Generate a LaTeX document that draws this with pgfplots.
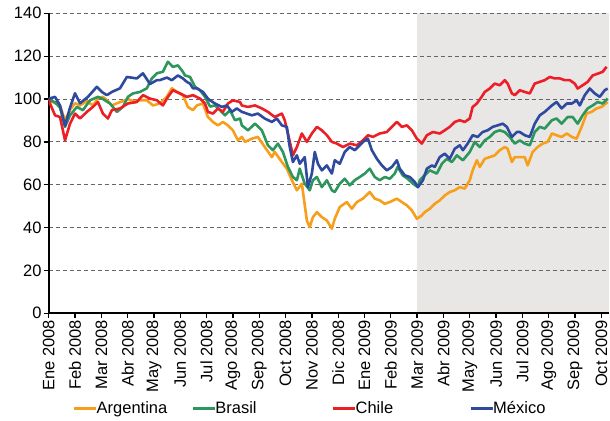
\documentclass[border=0pt]{standalone}
\usepackage{fontspec}
\setmainfont{Liberation Sans}
\usepackage{pgfplots}
\pgfplotsset{compat=1.18}
\definecolor{argc}{RGB}{247,158,27}
\definecolor{brac}{RGB}{44,150,92}
\definecolor{chic}{RGB}{236,30,38}
\definecolor{mexc}{RGB}{46,74,158}
\definecolor{shadec}{RGB}{232,231,230}
\newcommand{\chartfont}{\fontsize{16.5bp}{19bp}\selectfont}
\begin{document}
\begin{tikzpicture}
\begin{axis}[
  set layers,
  scale only axis, width=560bp, height=300bp,
  xmin=0, xmax=21.28, ymin=0, ymax=140,
  axis x line*=bottom, axis y line*=left,
  axis line style={line width=1.6bp, -},
  tick align=outside, major tick length=5bp,
  tick style={line width=1.3bp, black},
  ytick={0,20,...,140},
  xtick={0,...,21},
  xticklabels={Ene 2008,Feb 2008,Mar 2008,Abr 2008,May 2008,Jun 2008,Jul 2008,Ago 2008,Sep 2008,Oct 2008,Nov 2008,Dic 2008,Ene 2009,Feb 2009,Mar 2009,Abr 2009,May 2009,Jun 2009,Jul 2009,Ago 2009,Sep 2009,Oct 2009},
  x tick label style={rotate=90, anchor=east, inner sep=1.5bp},
  y tick label style={inner sep=2bp},
  every tick label/.append style={font=\chartfont},
  /pgf/number format/assume math mode=true,
  ymajorgrids,
  major grid style={gray!80!black, dash pattern=on 4bp off 3bp, line width=1bp},
  legend style={draw=none, fill=none, at={(0.465,-0.317)}, anchor=center, font=\chartfont,
    legend columns=4, nodes={inner xsep=0bp, inner ysep=1bp},
    /tikz/column 1/.style={column sep=-1bp},
    /tikz/column 3/.style={column sep=-1bp},
    /tikz/column 5/.style={column sep=-1bp},
    /tikz/column 7/.style={column sep=-1bp},
    /tikz/column 2/.style={column sep=24bp},
    /tikz/column 4/.style={column sep=75bp},
    /tikz/column 6/.style={column sep=76bp}},
  legend image code/.code={\draw[#1, line width=3bp] (0bp,0bp) -- (22bp,0bp);},
  every axis plot/.append style={line width=2.6bp, line join=round, mark=none},
]
\begin{pgfonlayer}{axis background}
\fill[shadec] (axis cs:14,0) rectangle (axis cs:21.28,140);
\end{pgfonlayer}

% Argentina
\addplot[argc] coordinates {
(0,100)(0.05,99.4)(0.24,98)(0.43,97)(0.62,90)(0.81,95)(1.00,98)(1.19,97)(1.45,99)(1.68,97)
(1.87,100.2)(2.06,101)(2.25,99)(2.40,97)(2.59,98)(2.82,99)(3.01,100)(3.20,99)(3.47,99.4)(3.73,99.4)
(3.96,97)(4.22,97.9)(4.49,101)(4.68,105)(4.87,103.3)(5.10,101.8)(5.29,96.3)(5.48,94.8)(5.63,97)(5.86,97.9)
(6.05,91.6)(6.24,89.3)(6.43,87.7)(6.62,89.3)(6.81,87.7)(7.00,85.4)(7.19,80.7)(7.34,82.3)(7.46,80)(7.72,81.5)
(7.95,82.3)(8.21,77.6)(8.48,72.9)(8.59,75.3)(8.86,70.6)(9.05,67.5)(9.24,62.1)(9.43,57.4)(9.62,60.5)(9.81,43.3)
(9.92,40.2)(10.04,44.9)(10.19,47.2)(10.38,44.9)(10.57,43.3)(10.76,39.5)(10.87,44.1)(11.06,49.6)(11.33,51.9)(11.52,48.8)
(11.71,51.9)(11.94,53.5)(12.20,56.6)(12.39,53.5)(12.58,52.7)(12.77,51.1)(12.96,51.9)(13.23,53.5)(13.42,51.9)(13.61,50.4)
(13.80,48)(13.99,44.1)(14.18,45.7)(14.29,47.2)(14.48,48.8)(14.67,51.1)(14.86,52.7)(15.05,55)(15.24,56.6)(15.43,57.4)
(15.62,58.9)(15.81,58.2)(16.00,62.1)(16.11,66.7)(16.27,71.4)(16.38,68.3)(16.57,72.1)(16.76,72.9)(16.95,73.7)(17.14,76.1)
(17.33,77.6)(17.44,76.8)(17.60,70.6)(17.71,72.9)(17.90,72.9)(18.09,72.9)(18.20,69)(18.39,75.3)(18.58,77.6)(18.77,79.2)
(18.96,80)(19.12,83.9)(19.30,83.1)(19.49,82.3)(19.69,83.9)(19.88,82.3)(20.06,81.5)(20.25,87)(20.44,93.2)(20.63,94)
(20.82,95.6)(21.01,96.3)(21.24,98.6)
};
\addlegendentry{Argentina}

% Brasil
\addplot[brac] coordinates {
(0,100)(0.05,99.4)(0.24,98.5)(0.43,96)(0.62,87)(0.81,92.4)(1.07,96.3)(1.30,94.8)(1.57,99.4)(1.87,101)
(2.06,100)(2.33,97.9)(2.59,94)(2.82,96.3)(3.01,101)(3.20,102.6)(3.47,103.3)(3.73,105)(3.92,109.6)(4.11,112)
(4.34,112.7)(4.53,117.4)(4.72,115)(4.91,115.7)(5.10,112.7)(5.18,111)(5.37,110.3)(5.56,105.7)(5.75,104.1)(5.94,101)
(6.13,96.5)(6.32,97)(6.51,94.8)(6.70,92.4)(6.89,94.8)(7.08,90.1)(7.27,90.9)(7.34,87.7)(7.57,85.4)(7.84,88.5)
(8.10,85.4)(8.33,78.4)(8.52,76.1)(8.71,79.2)(8.90,75.3)(9.09,68.3)(9.28,63.6)(9.43,62.1)(9.54,67.5)(9.73,60.5)
(9.92,57.4)(10.04,62.1)(10.19,63.6)(10.38,58.9)(10.57,62.1)(10.76,57.4)(10.87,56.6)(11.06,60.5)(11.25,62.8)(11.44,59.7)
(11.63,62.1)(11.82,63.6)(12.01,65.2)(12.20,67.5)(12.39,63.6)(12.58,62.1)(12.77,63.6)(12.96,62.8)(13.15,65.2)(13.26,68.3)
(13.45,64.4)(13.64,62.8)(13.84,60.5)(14.03,58.9)(14.10,62.1)(14.29,64.4)(14.48,66.7)(14.75,65.2)(14.94,69.8)(15.13,72.1)
(15.32,70.6)(15.51,73.7)(15.74,71.4)(16.00,75.3)(16.19,80)(16.38,77.6)(16.57,80.7)(16.76,82.3)(16.95,84.6)(17.14,85.4)
(17.33,84.6)(17.52,82.3)(17.71,79.2)(17.90,80.7)(18.09,79.2)(18.28,78.4)(18.47,84.6)(18.66,87)(18.85,86.2)(19.12,90.1)
(19.30,90.9)(19.49,88.5)(19.72,91.6)(19.91,91.6)(20.10,88.5)(20.29,92.4)(20.48,95.6)(20.67,97)(20.86,98.6)(21.05,97.9)
(21.24,100.2)
};
\addlegendentry{Brasil}

% Chile
\addplot[chic] coordinates {
(0,100)(0.05,97.9)(0.24,92.4)(0.43,91.6)(0.62,80.7)(0.81,88.5)(1.00,93.2)(1.19,90.9)(1.45,94)(1.68,96.3)
(1.87,98.6)(2.06,93.2)(2.25,90.9)(2.40,94.8)(2.71,95.6)(3.01,97.9)(3.35,98.6)(3.58,101.8)(3.85,100.2)(4.11,99.4)
(4.34,97)(4.53,101)(4.72,104.1)(4.99,102.6)(5.25,101)(5.48,101.8)(5.75,100.2)(5.94,97.9)(6.05,94)(6.24,93.2)
(6.43,95.6)(6.62,94)(6.81,97.9)(7.00,99.4)(7.27,98.6)(7.34,97)(7.57,96.3)(7.84,97)(8.10,95.6)(8.33,94)
(8.59,91.6)(8.86,93.2)(8.97,90.1)(9.09,83.9)(9.28,73.7)(9.43,77.6)(9.62,83.9)(9.81,80)(10.00,83.9)(10.19,87)
(10.38,85.4)(10.57,83.1)(10.76,80)(10.95,79.2)(11.18,77.6)(11.44,79.2)(11.71,78.4)(11.94,80.7)(12.13,83.1)(12.32,82.3)
(12.58,83.9)(12.85,84.6)(13.04,87)(13.23,89.3)(13.42,87)(13.61,87.7)(13.80,85.4)(13.99,81.5)(14.18,79.2)(14.37,83.1)
(14.60,84.6)(14.86,83.9)(15.05,85.4)(15.24,87)(15.43,89.3)(15.62,90.1)(15.81,89.3)(16.00,90.9)(16.11,96.3)(16.27,97.9)
(16.45,101)(16.57,103.3)(16.76,104.9)(16.95,107.2)(17.14,106.4)(17.33,108.8)(17.44,107.2)(17.60,102.6)(17.71,101.8)(17.90,104.1)
(18.09,103.3)(18.28,102.6)(18.47,107.2)(18.66,108)(18.85,108.8)(19.04,110.3)(19.23,109.6)(19.42,109.6)(19.61,108.8)(19.80,108.8)
(19.99,107.2)(20.10,104.9)(20.29,106.4)(20.48,108)(20.67,111)(20.86,111.8)(21.05,112.7)(21.20,115)
};
\addlegendentry{Chile}

% Mexico
\addplot[mexc] coordinates {
(0,100)(0.05,100.3)(0.24,101)(0.43,97)(0.62,87.5)(0.81,96)(1.00,102.7)(1.19,98)(1.49,101)(1.83,105.7)
(2.02,103.3)(2.21,101.8)(2.40,103.3)(2.71,105)(2.97,110.3)(3.35,109.6)(3.58,112)(3.85,107)(4.11,108.8)(4.22,108.8)
(4.49,110)(4.68,108.8)(4.91,111)(5.10,109.6)(5.25,108)(5.37,107.2)(5.48,105)(5.63,105)(5.86,103.3)(6.05,100.2)
(6.13,99.4)(6.32,97.9)(6.58,96.3)(6.77,97)(6.96,94)(7.15,95.6)(7.34,94)(7.72,92.4)(7.95,93.2)(8.21,90.9)
(8.48,89.3)(8.67,90.9)(8.86,87.7)(9.05,87)(9.16,77.6)(9.28,70.6)(9.43,73.7)(9.54,69.8)(9.73,72.9)(9.85,58.9)
(10.00,65.2)(10.11,75.3)(10.23,69.8)(10.38,66.7)(10.57,69)(10.76,65.2)(10.87,71.4)(11.06,69.8)(11.25,75.3)(11.44,77.6)
(11.63,76.1)(11.82,78.4)(12.01,80.7)(12.13,81.5)(12.28,76.1)(12.47,72.1)(12.66,69)(12.85,66.7)(13.04,68.3)(13.23,71.4)
(13.34,67.5)(13.53,64.4)(13.72,63.6)(13.91,61.3)(14.03,58.9)(14.22,62.1)(14.37,67.5)(14.56,69)(14.67,68.3)(14.86,72.9)
(15.05,74.5)(15.24,72.1)(15.43,76.8)(15.62,78.4)(15.74,76.1)(15.92,79.2)(16.11,83.1)(16.30,82.3)(16.49,84.6)(16.68,85.4)
(16.87,87)(17.06,87.7)(17.25,88.5)(17.41,87)(17.60,82.3)(17.79,84.6)(17.90,84.6)(18.09,83.1)(18.28,82.3)(18.47,88.5)
(18.66,92.4)(18.85,94)(19.12,97)(19.30,98.6)(19.49,95.6)(19.69,97.9)(19.88,97.9)(20.06,99.4)(20.18,97)(20.37,101.8)
(20.56,104.9)(20.75,102.6)(20.94,101)(21.13,104.1)(21.24,104.9)
};
\addlegendentry{México}
\end{axis}
\pgfresetboundingbox
\path[use as bounding box] ([xshift=-48.7bp,yshift=-107.3bp]current axis.south west) rectangle ([xshift=1.3bp,yshift=13.3bp]current axis.north east);
\end{tikzpicture}
\end{document}
